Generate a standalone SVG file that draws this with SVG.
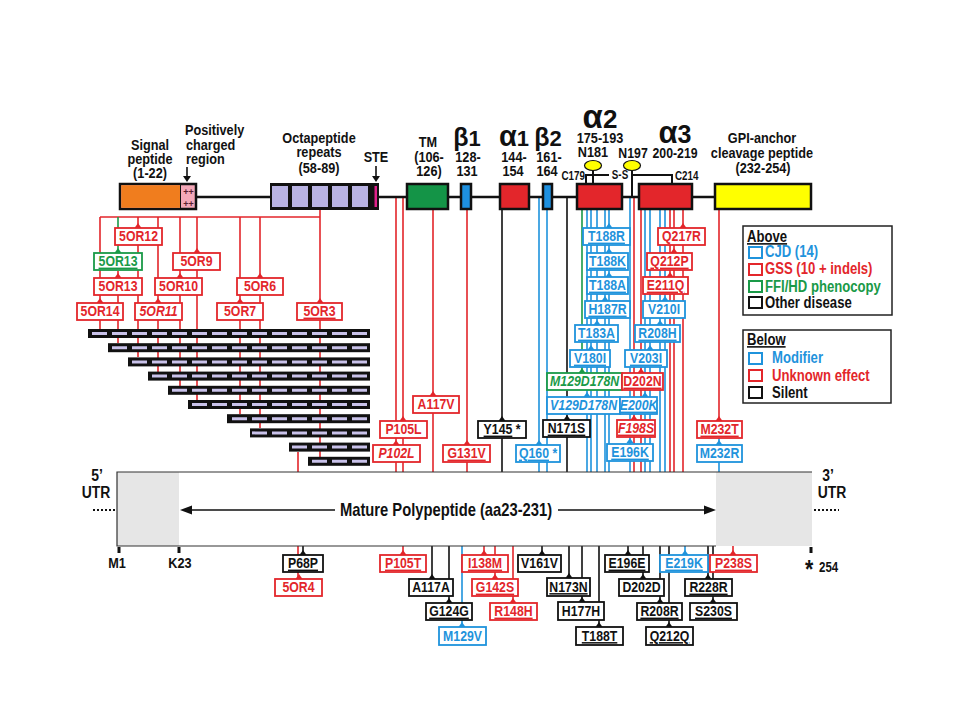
<svg xmlns="http://www.w3.org/2000/svg" width="960" height="720" viewBox="0 0 960 720">
<defs>
<style>
text{font-family:"Liberation Sans",Arial,sans-serif;font-weight:bold;transform-box:fill-box;transform-origin:center;transform:scaleX(0.82)}
.h{font-size:15.5px;text-anchor:middle;fill:#111}
.hl{font-size:15.5px;fill:#111;transform-origin:left center}
.sm{font-size:12px;fill:#111}
.st{transform-origin:left center}
.en{transform-origin:right center}
.gk{text-anchor:middle;fill:#111;transform:none}
.bx rect{fill:#fff;stroke-width:1.8}
.bx text{font-size:15px;text-anchor:middle}
.R rect{stroke:#e3262b}.R text{fill:#e3262b}
.B rect{stroke:#1f93dc}.B text{fill:#1f93dc}
.G rect{stroke:#1a9a48}.G text{fill:#1a9a48}
.K rect{stroke:#111}.K text{fill:#111}
.u{text-decoration:underline}
.i{font-style:italic}
.ln{fill:none;stroke-width:1.6}
.lr{stroke:#e3262b}.lb{stroke:#1f93dc}.lg{stroke:#1a9a48}.lk{stroke:#111}
.dom{stroke:#111;stroke-width:2.5}
.row rect{fill:#111}
.row line{stroke:#c9c2ea;stroke-width:3;stroke-dasharray:15 5}
.lg1{font-size:16px;transform-origin:left center}
</style>
<path id="ah" d="M-3.5,0 L3.5,0 L0,-5 Z"/>
</defs>
<rect width="960" height="720" fill="#fff"/>

<!-- header labels -->
<g id="labels">
<text class="h" x="150" y="150">Signal</text>
<text class="h" x="150" y="164">peptide</text>
<text class="h" x="150" y="178">(1-22)</text>
<text class="hl" x="185" y="135">Positively</text>
<text class="hl" x="186" y="150">charged</text>
<text class="hl" x="186" y="164">region</text>
<path d="M187,167V177" stroke="#111" stroke-width="1.6"/>
<path d="M183,176 L191,176 L187,182Z" fill="#111"/>
<text class="h" x="319" y="143">Octapeptide</text>
<text class="h" x="319" y="157">repeats</text>
<text class="h" x="319" y="173">(58-89)</text>
<text class="h" x="376" y="162">STE</text>
<path d="M376,166V177" stroke="#111" stroke-width="1.6"/>
<path d="M372,176 L380,176 L376,182Z" fill="#111"/>
<text class="h" x="428" y="147">TM</text>
<text class="h" x="429" y="162">(106-</text>
<text class="h" x="429" y="176">126)</text>
<text class="gk" x="467" y="146"><tspan font-size="25">β</tspan><tspan font-size="22">1</tspan></text>
<text class="h" x="468" y="162">128-</text>
<text class="h" x="467" y="176">131</text>
<text class="gk" x="514" y="146"><tspan font-size="29">α</tspan><tspan font-size="22">1</tspan></text>
<text class="h" x="514" y="162">144-</text>
<text class="h" x="513" y="176">154</text>
<text class="gk" x="548" y="146"><tspan font-size="25">β</tspan><tspan font-size="22">2</tspan></text>
<text class="h" x="549" y="162">161-</text>
<text class="h" x="547" y="176">164</text>
<text class="gk" x="600" y="128"><tspan font-size="33">α</tspan><tspan font-size="26">2</tspan></text>
<text class="h" x="600" y="143">175-193</text>
<text class="h" x="593" y="157">N181</text>
<text class="h" x="633" y="158" style="font-size:15px">N197</text>
<text class="h" x="675" y="158" style="font-size:15px">200-219</text>
<text class="gk" x="675" y="143"><tspan font-size="31">α</tspan><tspan font-size="25">3</tspan></text>
<text class="h" x="762" y="143">GPI-anchor</text>
<text class="h" x="762" y="158">cleavage peptide</text>
<text class="h" x="763" y="173">(232-254)</text>
<text class="sm en" x="585" y="180" text-anchor="end">C179</text>
<text class="sm" x="620" y="179" text-anchor="middle">S-S</text>
<text class="sm st" x="675" y="180">C214</text>
</g>

<!-- connectors -->
<g id="connectors">
<path class="ln lr" d="M100,217H320 M320,210V457 M100,217V329 M138,217V357 M158,217V372 M180,217V386 M197,217V400 M240,217V414 M260,217V428 M118,271V343 M298,452V579 M396,197V472 M403,197V472 M433,210V472 M467,210V472 M634,197V472 M641,210V472 M670,210V472 M674,210V472 M683,210V472 M719,210V421 M403,546V555 M484,546V555 M495,546V579 M513,546V603 M733,546V555"/>
<path class="ln lk" d="M502,210V472 M567,197V472 M303,546V555 M432,546V579 M449,546V603 M542,546V555 M569,546V578 M582,546V602 M599,546V627 M628,546V555 M643,546V579 M660,546V603 M669,546V627 M708,546V579 M713,546V603"/>
<path class="ln lb" d="M539,197V472 M547,210V472 M587,210V472 M591,210V472 M597,210V472 M605,210V472 M609,210V472 M630,197V472 M645,210V472 M650,210V472 M660,210V472 M665,210V472 M719,438V472 M462,546V627 M685,546V555"/>
<path class="ln lg" d="M118,217V253 M582,210V373"/>
<g fill="#e3262b">
<use href="#ah" x="138" y="228"/><use href="#ah" x="197" y="253"/><use href="#ah" x="118" y="278"/><use href="#ah" x="180" y="278"/><use href="#ah" x="260" y="278"/><use href="#ah" x="100" y="303"/><use href="#ah" x="158" y="303"/><use href="#ah" x="240" y="303"/><use href="#ah" x="320" y="303"/><use href="#ah" x="433" y="396"/><use href="#ah" x="403" y="421"/><use href="#ah" x="396" y="445"/><use href="#ah" x="467" y="445"/><use href="#ah" x="641" y="373"/><use href="#ah" x="670" y="277"/><use href="#ah" x="674" y="253"/><use href="#ah" x="683" y="228"/><use href="#ah" x="634" y="420"/><use href="#ah" x="719" y="421"/><use href="#ah" x="299" y="579"/><use href="#ah" x="403" y="555"/><use href="#ah" x="484" y="555"/><use href="#ah" x="495" y="579"/><use href="#ah" x="513" y="603"/><use href="#ah" x="733" y="555"/>
</g>
<g fill="#1a9a48"><use href="#ah" x="118" y="253"/><use href="#ah" x="582" y="373"/></g>
<g fill="#1f93dc">
<use href="#ah" x="539" y="445"/><use href="#ah" x="609" y="228"/><use href="#ah" x="609" y="253"/><use href="#ah" x="609" y="277"/><use href="#ah" x="605" y="301"/><use href="#ah" x="597" y="325"/><use href="#ah" x="591" y="350"/><use href="#ah" x="587" y="397"/><use href="#ah" x="645" y="397"/><use href="#ah" x="650" y="350"/><use href="#ah" x="660" y="325"/><use href="#ah" x="665" y="301"/><use href="#ah" x="630" y="443"/><use href="#ah" x="719" y="445"/><use href="#ah" x="462" y="627"/><use href="#ah" x="685" y="555"/>
</g>
<g fill="#111">
<use href="#ah" x="502" y="421"/><use href="#ah" x="567" y="420"/><use href="#ah" x="303" y="555"/><use href="#ah" x="432" y="579"/><use href="#ah" x="449" y="603"/><use href="#ah" x="542" y="555"/><use href="#ah" x="569" y="578"/><use href="#ah" x="582" y="602"/><use href="#ah" x="599" y="627"/><use href="#ah" x="628" y="555"/><use href="#ah" x="643" y="579"/><use href="#ah" x="660" y="603"/><use href="#ah" x="669" y="627"/><use href="#ah" x="708" y="579"/><use href="#ah" x="713" y="603"/>
</g>
</g>

<!-- domains -->
<g id="domains">
<path d="M197,197H714" stroke="#111" stroke-width="2.5"/>
<path d="M586,183V175H609 M631,175H672V183 M593,170V183 M632,170V197" fill="none" stroke="#111" stroke-width="2"/>
<ellipse cx="593" cy="165.5" rx="8.5" ry="5" fill="#ffff00" stroke="#111" stroke-width="1.2"/>
<ellipse cx="632" cy="165.5" rx="8.5" ry="5" fill="#ffff00" stroke="#111" stroke-width="1.2"/>
<g id="signal">
<rect class="dom" x="120" y="184" width="76" height="25" fill="#f4a8b8"/>
<rect x="121.2" y="185.2" width="59" height="22.6" fill="#f07d1e"/>
<path d="M180.5,185V208" stroke="#111" stroke-width="1"/>
<text x="188.5" y="195" font-size="9" fill="#5a2030" text-anchor="middle" style="transform:none">++</text>
<text x="188.5" y="206.5" font-size="9" fill="#5a2030" text-anchor="middle" style="transform:none">++</text>
</g>
<g id="octarepeats">
<rect x="270" y="183" width="109" height="27" fill="#111"/>
<g fill="#b9b3e3"><rect x="272" y="186" width="16" height="21"/><rect x="292" y="186" width="16" height="21"/><rect x="312" y="186" width="16" height="21"/><rect x="332" y="186" width="16" height="21"/><rect x="352" y="186" width="16" height="21"/></g>
<rect x="374.5" y="186" width="2.5" height="21" fill="#e0208a"/>
</g>
<rect id="tm" class="dom" x="407" y="184" width="41" height="25" fill="#149447"/>
<rect id="beta1" class="dom" x="461" y="184" width="10" height="25" fill="#1e90e0"/>
<rect id="alpha1" class="dom" x="500" y="184" width="29" height="25" fill="#e3262b"/>
<rect id="beta2" class="dom" x="543" y="184" width="9" height="25" fill="#1e90e0"/>
<rect id="alpha2" class="dom" x="577" y="184" width="45" height="25" fill="#e3262b"/>
<rect id="alpha3" class="dom" x="639" y="184" width="53" height="25" fill="#e3262b"/>
<rect id="gpi" class="dom" x="715" y="184" width="96" height="25" fill="#ffff00"/>
</g>

<!-- deletion bars -->
<g id="repeat-bars">
<g class="row"><rect x="88" y="329" width="282" height="9"/><line x1="367" y1="333.5" x2="90" y2="333.5"/></g>
<g class="row"><rect x="108" y="343.2" width="262" height="9"/><line x1="367" y1="347.7" x2="110" y2="347.7"/></g>
<g class="row"><rect x="128" y="357.4" width="242" height="9"/><line x1="367" y1="361.9" x2="130" y2="361.9"/></g>
<g class="row"><rect x="148" y="371.6" width="222" height="9"/><line x1="367" y1="376.1" x2="150" y2="376.1"/></g>
<g class="row"><rect x="168" y="385.8" width="202" height="9"/><line x1="367" y1="390.3" x2="170" y2="390.3"/></g>
<g class="row"><rect x="188" y="400" width="182" height="9"/><line x1="367" y1="404.5" x2="190" y2="404.5"/></g>
<g class="row"><rect x="227" y="414.2" width="143" height="9"/><line x1="367" y1="418.7" x2="229" y2="418.7"/></g>
<g class="row"><rect x="250" y="428.4" width="120" height="9"/><line x1="367" y1="432.9" x2="252" y2="432.9"/></g>
<g class="row"><rect x="289" y="442.6" width="81" height="9"/><line x1="367" y1="447.1" x2="291" y2="447.1"/></g>
<g class="row"><rect x="308" y="456.8" width="62" height="9"/><line x1="367" y1="461.3" x2="310" y2="461.3"/></g>
</g>

<!-- above nodes -->
<g id="n-5OR12" class="bx R"><rect x="115" y="228" width="47" height="17"/><text x="138.5" y="241.5">5OR12</text></g>
<g id="n-5OR13g" class="bx G"><rect x="94" y="253" width="48" height="17"/><text class="u" x="118" y="266.5">5OR13</text></g>
<g id="n-5OR9" class="bx R"><rect x="173" y="253" width="47" height="17"/><text x="196.5" y="266.5">5OR9</text></g>
<g id="n-5OR13" class="bx R"><rect x="94" y="278" width="48" height="17"/><text x="118" y="291.5">5OR13</text></g>
<g id="n-5OR10" class="bx R"><rect x="155" y="278" width="47" height="17"/><text x="178.5" y="291.5">5OR10</text></g>
<g id="n-5OR6" class="bx R"><rect x="237" y="278" width="46" height="17"/><text x="260" y="291.5">5OR6</text></g>
<g id="n-5OR14" class="bx R"><rect x="77" y="303" width="46" height="17"/><text x="100" y="316.5">5OR14</text></g>
<g id="n-5OR11" class="bx R"><rect x="135" y="303" width="47" height="17"/><text class="i" x="158.5" y="316.5">5OR11</text></g>
<g id="n-5OR7" class="bx R"><rect x="217" y="303" width="46" height="17"/><text x="240" y="316.5">5OR7</text></g>
<g id="n-5OR3" class="bx R"><rect x="297" y="303" width="45" height="17"/><text class="u" x="319.5" y="316.5">5OR3</text></g>

<g id="n-A117V" class="bx R"><rect x="413" y="396" width="46" height="17"/><text x="436" y="409.5">A117V</text></g>
<g id="n-P105L" class="bx R"><rect x="380" y="421" width="47" height="17"/><text x="403.5" y="434.5">P105L</text></g>
<g id="n-P102L" class="bx R"><rect x="373" y="445" width="47" height="17"/><text class="i" x="396.5" y="458.5">P102L</text></g>
<g id="n-G131V" class="bx R"><rect x="443" y="445" width="47" height="17"/><text class="u" x="466.5" y="458.5">G131V</text></g>
<g id="n-Y145" class="bx K"><rect x="478" y="421" width="48" height="17"/><text x="502" y="434.5"><tspan class="u">Y145</tspan> *</text></g>
<g id="n-Q160" class="bx B"><rect x="516" y="445" width="44" height="17"/><text x="538" y="458.5"><tspan class="u">Q160</tspan> *</text></g>
<g id="n-N171S" class="bx K"><rect x="543" y="420" width="47" height="17"/><text class="u" x="566.5" y="433.5">N171S</text></g>

<g id="n-T188R" class="bx B"><rect x="583" y="228" width="47" height="17"/><text class="u" x="606.5" y="241.5">T188R</text></g>
<g id="n-T188K" class="bx B"><rect x="587" y="253" width="41" height="17"/><text class="u" x="607.5" y="266.5">T188K</text></g>
<g id="n-T188A" class="bx B"><rect x="587" y="277" width="41" height="17"/><text class="u" x="607.5" y="290.5">T188A</text></g>
<g id="n-H187R" class="bx B"><rect x="585" y="301" width="45" height="17"/><text class="u" x="607.5" y="314.5">H187R</text></g>
<g id="n-T183A" class="bx B"><rect x="575" y="325" width="43" height="17"/><text class="u" x="596.5" y="338.5">T183A</text></g>
<g id="n-V180I" class="bx B"><rect x="570" y="350" width="40" height="17"/><text class="u" x="590" y="363.5">V180I</text></g>
<g id="n-M129D178N" class="bx G"><rect x="547" y="373" width="75" height="17"/><text class="i" x="584.5" y="386.5">M129D178N</text></g>
<g id="n-V129D178N" class="bx B"><rect x="547" y="397" width="73" height="17"/><text class="i" x="583.5" y="410.5">V129D178N</text></g>
<g id="n-D202N" class="bx R"><rect x="622" y="373" width="41" height="17"/><text class="u" x="642.5" y="386.5">D202N</text></g>
<g id="n-E200K" class="bx B"><rect x="620" y="397" width="37" height="17"/><text class="u i" x="638.5" y="410.5">E200K</text></g>
<g id="n-V203I" class="bx B"><rect x="625" y="350" width="42" height="17"/><text class="u" x="646" y="363.5">V203I</text></g>
<g id="n-R208H" class="bx B"><rect x="635" y="325" width="45" height="17"/><text class="u" x="657.5" y="338.5">R208H</text></g>
<g id="n-V210I" class="bx B"><rect x="643" y="301" width="42" height="17"/><text x="664" y="314.5">V210I</text></g>
<g id="n-E211Q" class="bx R"><rect x="643" y="277" width="45" height="17"/><text class="u" x="665.5" y="290.5">E211Q</text></g>
<g id="n-Q212P" class="bx R"><rect x="647" y="253" width="45" height="17"/><text class="u" x="669.5" y="266.5">Q212P</text></g>
<g id="n-Q217R" class="bx R"><rect x="658" y="228" width="47" height="17"/><text x="681.5" y="241.5">Q217R</text></g>
<g id="n-F198S" class="bx R"><rect x="617" y="420" width="38" height="17"/><text class="u i" x="636" y="433.5">F198S</text></g>
<g id="n-E196K" class="bx B"><rect x="607" y="444" width="46" height="17"/><text class="u" x="630" y="457.5">E196K</text></g>
<g id="n-M232T" class="bx R"><rect x="697" y="421" width="45" height="17"/><text class="u" x="719.5" y="434.5">M232T</text></g>
<g id="n-M232R" class="bx B"><rect x="697" y="445" width="45" height="17"/><text x="719.5" y="458.5">M232R</text></g>

<!-- main bar -->
<g id="bar">
<rect x="117" y="472" width="695" height="74" fill="#fff"/>
<rect x="117" y="472" width="62" height="74" fill="#e6e6e6"/>
<rect x="716" y="472" width="96" height="74" fill="#e6e6e6"/>
<path d="M812,472H117V546H716" fill="none" stroke="#333" stroke-width="1.2"/>
<path d="M335,510H190 M558,510H705" stroke="#111" stroke-width="1.5"/>
<path d="M180,510 L192,505.5 L192,514.5Z M716,510 L704,505.5 L704,514.5Z" fill="#111"/>
<text class="h" x="446" y="516" style="font-size:18px">Mature Polypeptide (aa23-231)</text>
<text class="h" x="97" y="481" style="font-size:17px">5’</text>
<text class="h" x="96" y="498" style="font-size:17px">UTR</text>
<path d="M93,510H116" stroke="#111" stroke-width="2" stroke-dasharray="2 2"/>
<text class="h" x="828" y="481" style="font-size:17px">3’</text>
<text class="h" x="832" y="498" style="font-size:17px">UTR</text>
<path d="M814,510H839" stroke="#111" stroke-width="2" stroke-dasharray="2 2"/>
<path d="M119,547V553 M179,547V553 M811,547V553" stroke="#111" stroke-width="3"/>
<text class="h" x="117" y="568">M1</text>
<text class="h" x="180" y="568">K23</text>
<text class="st" x="805" y="578" style="font-size:26px" fill="#111">*</text>
<text class="st" x="819" y="572" style="font-size:14px" fill="#111">254</text>
</g>

<!-- below nodes -->
<g id="n-P68P" class="bx K"><rect x="283" y="555" width="40" height="17"/><text class="u" x="303" y="568.5">P68P</text></g>
<g id="n-5OR4" class="bx R"><rect x="275" y="579" width="47" height="17"/><text x="298.5" y="592.5">5OR4</text></g>
<g id="n-P105T" class="bx R"><rect x="380" y="555" width="46" height="17"/><text class="u" x="403" y="568.5">P105T</text></g>
<g id="n-A117A" class="bx K"><rect x="409" y="579" width="44" height="17"/><text x="431" y="592.5">A117A</text></g>
<g id="n-G124G" class="bx K"><rect x="426" y="603" width="46" height="17"/><text class="u" x="449" y="616.5">G124G</text></g>
<g id="n-M129V" class="bx B"><rect x="439" y="627" width="47" height="18"/><text x="462.5" y="641">M129V</text></g>
<g id="n-I138M" class="bx R"><rect x="462" y="555" width="46" height="17"/><text class="u" x="485" y="568.5">I138M</text></g>
<g id="n-G142S" class="bx R"><rect x="472" y="579" width="46" height="17"/><text class="u" x="495" y="592.5">G142S</text></g>
<g id="n-R148H" class="bx R"><rect x="490" y="603" width="47" height="17"/><text class="u" x="513.5" y="616.5">R148H</text></g>
<g id="n-V161V" class="bx K"><rect x="518" y="555" width="43" height="17"/><text x="539.5" y="568.5">V161V</text></g>
<g id="n-N173N" class="bx K"><rect x="547" y="578" width="43" height="18"/><text class="u" x="568.5" y="592">N173N</text></g>
<g id="n-H177H" class="bx K"><rect x="558" y="602" width="46" height="18"/><text x="581" y="616">H177H</text></g>
<g id="n-T188T" class="bx K"><rect x="576" y="627" width="47" height="18"/><text class="u" x="599.5" y="641">T188T</text></g>
<g id="n-E196E" class="bx K"><rect x="605" y="555" width="44" height="17"/><text class="u" x="627" y="568.5">E196E</text></g>
<g id="n-D202D" class="bx K"><rect x="619" y="579" width="45" height="17"/><text x="641.5" y="592.5">D202D</text></g>
<g id="n-R208R" class="bx K"><rect x="637" y="603" width="45" height="17"/><text class="u" x="659.5" y="616.5">R208R</text></g>
<g id="n-Q212Q" class="bx K"><rect x="646" y="627" width="47" height="18"/><text class="u" x="669.5" y="641">Q212Q</text></g>
<g id="n-E219K" class="bx B"><rect x="660" y="555" width="48" height="17"/><text class="u" x="684" y="568.5">E219K</text></g>
<g id="n-R228R" class="bx K"><rect x="685" y="579" width="47" height="17"/><text class="u" x="708.5" y="592.5">R228R</text></g>
<g id="n-S230S" class="bx K"><rect x="690" y="603" width="47" height="17"/><text class="u" x="713.5" y="616.5">S230S</text></g>
<g id="n-P238S" class="bx R"><rect x="710" y="555" width="47" height="17"/><text class="u" x="733.5" y="568.5">P238S</text></g>

<!-- legend -->
<g id="legend-above">
<rect x="743" y="226" width="149" height="89" fill="#fff" stroke="#222" stroke-width="1.5"/>
<text class="lg1 u" x="747" y="242" fill="#111">Above</text>
<rect x="749" y="247" width="13" height="11" fill="none" stroke="#1f93dc" stroke-width="2"/>
<text class="lg1" x="765" y="257" fill="#1f93dc">CJD (14)</text>
<rect x="749" y="264" width="13" height="11" fill="none" stroke="#e3262b" stroke-width="2"/>
<text class="lg1" x="765" y="274.5" fill="#e3262b">GSS (10 + indels)</text>
<rect x="749" y="281" width="13" height="11" fill="none" stroke="#1a9a48" stroke-width="2"/>
<text class="lg1" x="765" y="292" fill="#1a9a48">FFI/HD phenocopy</text>
<rect x="749" y="297" width="13" height="11" fill="none" stroke="#111" stroke-width="2"/>
<text class="lg1" x="765" y="308" fill="#111">Other disease</text>
</g>
<g id="legend-below">
<rect x="743" y="330" width="148" height="73" fill="#fff" stroke="#222" stroke-width="1.5"/>
<text class="lg1 u" x="747" y="345" fill="#111">Below</text>
<rect x="749" y="353" width="13" height="11" fill="none" stroke="#1f93dc" stroke-width="2"/>
<text class="lg1" x="772" y="363" fill="#1f93dc">Modifier</text>
<rect x="749" y="370" width="13" height="11" fill="none" stroke="#e3262b" stroke-width="2"/>
<text class="lg1" x="772" y="381" fill="#e3262b">Unknown effect</text>
<rect x="749" y="387" width="13" height="11" fill="none" stroke="#111" stroke-width="2"/>
<text class="lg1" x="772" y="398" fill="#111">Silent</text>
</g>
</svg>
